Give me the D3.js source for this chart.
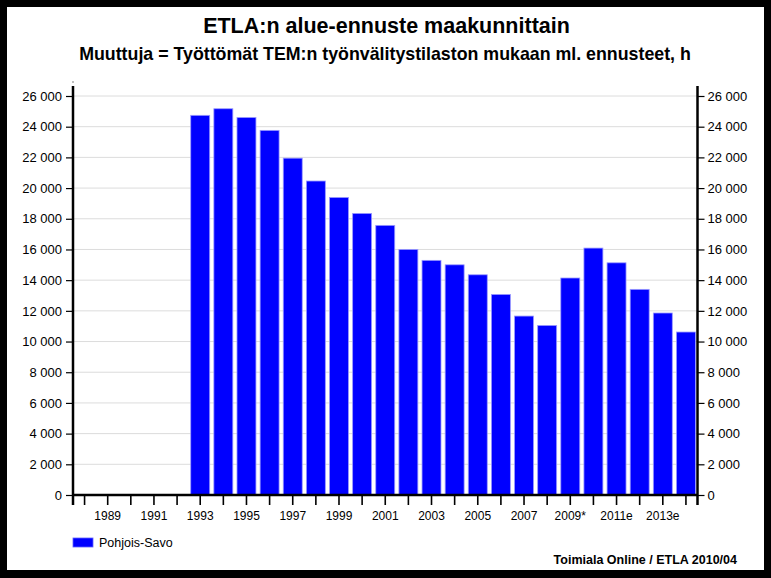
<!DOCTYPE html>
<html><head><meta charset="utf-8">
<script src="https://cdn.jsdelivr.net/npm/d3@7"></script>
<style>
html,body{margin:0;padding:0;background:#000;}
text{font-family:"Liberation Sans",Arial,sans-serif;}
</style></head>
<body>
<script>
const categories = ["1988","1989","1990","1991","1992","1993","1994","1995","1996","1997","1998","1999","2000","2001","2002","2003","2004","2005","2006","2007","2008","2009*","2010e","2011e","2012e","2013e","2014e"];
const values = [null,null,null,null,null,24740,25170,24600,23760,21950,20460,19390,18350,17570,16000,15290,15000,14350,13070,11660,11050,14140,16090,15130,13400,11860,10620];
const yTicks = [0,2000,4000,6000,8000,10000,12000,14000,16000,18000,20000,22000,24000,26000];
const xLabelShown = ["1989","1991","1993","1995","1997","1999","2001","2003","2005","2007","2009*","2011e","2013e"];
const seriesName = "Pohjois-Savo";
const title = "ETLA:n alue-ennuste maakunnittain";
const subtitle = "Muuttuja = Työttömät TEM:n työnvälitystilaston mukaan ml. ennusteet, h";
const source = "Toimiala Online / ETLA 2010/04";

const W = 771, H = 578;
const svg = d3.select("body").append("svg").attr("width", W).attr("height", H).style("display","block");
svg.append("rect").attr("width", W).attr("height", H).attr("fill", "#000");
svg.append("rect").attr("x", 7).attr("y", 7).attr("width", 757).attr("height", 563).attr("fill", "#fff");

const L = 73, R = 697.5, T = 86, B = 495;
const yTop = 26000 * (B - T) / (B - 96);
const x = d3.scaleBand().domain(categories).range([L, R]).paddingInner(0.18).paddingOuter(0.09);
const y = d3.scaleLinear().domain([0, yTop]).range([B, T]);

// grid
svg.append("g").selectAll("line").data(yTicks.filter(d => d > 0)).join("line")
  .attr("x1", L).attr("x2", R).attr("y1", d => y(d)).attr("y2", d => y(d))
  .attr("stroke", "#dcdcdc").attr("stroke-width", 1);

// bars
svg.append("g").selectAll("rect").data(categories.map((c, i) => ({c, v: values[i]})).filter(d => d.v != null)).join("rect")
  .attr("x", d => x(d.c)).attr("width", x.bandwidth())
  .attr("y", d => y(d.v)).attr("height", d => B - y(d.v))
  .attr("fill", "#0000ff").attr("stroke", "#9a9aff").attr("stroke-width", 0.8);

const fmt = d => d3.format(",")(d).replace(/,/g, " ");
// left axis
const yl = svg.append("g").attr("transform", `translate(${L},0)`)
  .call(d3.axisLeft(y).tickValues(yTicks).tickSize(7).tickPadding(4).tickFormat(fmt));
// right axis
const yr = svg.append("g").attr("transform", `translate(${R},0)`)
  .call(d3.axisRight(y).tickValues(yTicks).tickSize(7).tickPadding(3).tickFormat(fmt));
[yl, yr].forEach(g => {
  g.select(".domain").remove();
  g.selectAll(".tick line").attr("stroke", "#000").attr("stroke-width", 1.2);
  g.selectAll("text").attr("font-size", 13).attr("fill", "#000");
});
// axis lines
svg.append("line").attr("x1", L).attr("x2", L).attr("y1", T).attr("y2", B + 10).attr("stroke", "#000").attr("stroke-width", 2.5);
svg.append("line").attr("x1", R).attr("x2", R).attr("y1", T).attr("y2", B + 10).attr("stroke", "#000").attr("stroke-width", 2.5);
svg.append("rect").attr("x", L - 0.5).attr("y", 81.5).attr("width", 1).attr("height", 1).attr("fill", "#000");

// x axis
const xa = svg.append("g").attr("transform", `translate(0,${B})`)
  .call(d3.axisBottom(x).tickSize(10).tickPadding(6).tickFormat(d => xLabelShown.includes(d) ? d : ""));
xa.select(".domain").remove();
xa.selectAll(".tick line").attr("stroke", "#000").attr("stroke-width", 1.6);
xa.selectAll("text").attr("font-size", 12).attr("fill", "#000");
svg.append("line").attr("x1", L).attr("x2", R).attr("y1", B).attr("y2", B).attr("stroke", "#000").attr("stroke-width", 2.5);

// titles
svg.append("text").attr("x", 386.5).attr("y", 33).attr("text-anchor", "middle")
  .attr("font-size", 21.5).attr("font-weight", "bold").text(title);
svg.append("text").attr("x", 385).attr("y", 60).attr("text-anchor", "middle")
  .attr("font-size", 17.8).attr("font-weight", "bold").text(subtitle);

// legend
svg.append("rect").attr("x", 73).attr("y", 538).attr("width", 20).attr("height", 9)
  .attr("fill", "#0000ff").attr("stroke", "#6060ff").attr("stroke-width", 0.8);
svg.append("text").attr("x", 99).attr("y", 547).attr("font-size", 12.5).text(seriesName);

// source
svg.append("text").attr("x", 737).attr("y", 564).attr("text-anchor", "end")
  .attr("font-size", 12.5).attr("font-weight", "bold").text(source);
</script>
</body></html>
